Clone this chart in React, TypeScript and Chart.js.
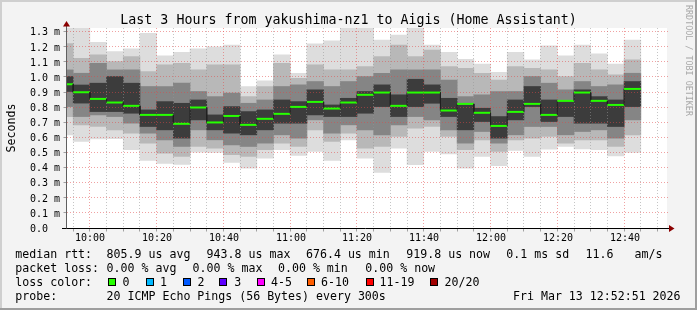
import React, { useEffect, useRef } from 'react';
import { Chart, registerables } from 'chart.js';

Chart.register(...registerables);

// ---- data ----
const intervalStarts = [
  '09:50', '09:55', '10:00', '10:05', '10:10', '10:15', '10:20', '10:25', '10:30', '10:35',
  '10:40', '10:45', '10:50', '10:55', '11:00', '11:05', '11:10', '11:15', '11:20', '11:25',
  '11:30', '11:35', '11:40', '11:45', '11:50', '11:55', '12:00', '12:05', '12:10', '12:15',
  '12:20', '12:25', '12:30', '12:35', '12:40',
];

// median rtt in ms
const medianRtt = [
  0.952, 0.899, 0.855, 0.831, 0.809, 0.749, 0.749, 0.690, 0.798, 0.699,
  0.742, 0.683, 0.723, 0.756, 0.802, 0.835, 0.791, 0.831, 0.882, 0.897,
  0.809, 0.897, 0.897, 0.778, 0.822, 0.763, 0.676, 0.769, 0.822, 0.749,
  0.842, 0.897, 0.842, 0.815, 0.921,
];

// smoke: outermost (min .. max of the pings)
const smokeMax = [
  1.36, 1.33, 1.230, 1.168, 1.186, 1.289, 1.140, 1.164, 1.186, 1.200,
  1.211, 0.937, 0.974, 1.146, 1.025, 1.219, 1.239, 1.36, 1.36, 1.245,
  1.278, 1.36, 1.212, 1.164, 1.117, 1.086, 1.031, 1.164, 1.113, 1.206,
  1.140, 1.212, 1.153, 1.086, 1.245,
];
const smokeMin = [
  0.617, 0.573, 0.590, 0.592, 0.518, 0.447, 0.428, 0.421, 0.502, 0.500,
  0.434, 0.397, 0.462, 0.518, 0.480, 0.507, 0.447, 0.584, 0.463, 0.368,
  0.529, 0.419, 0.507, 0.491, 0.397, 0.474, 0.412, 0.513, 0.474, 0.522,
  0.540, 0.524, 0.518, 0.478, 0.500,
];
// smoke: second band
const smokeOuterHigh = [
  1.222, 1.124, 1.146, 1.102, 1.135, 1.036, 1.080, 1.091, 1.047, 1.080,
  1.080, 0.870, 0.937, 1.091, 0.992, 1.080, 1.047, 1.047, 1.069, 1.135,
  1.212, 1.135, 1.179, 1.069, 1.058, 1.025, 0.980, 1.069, 1.058, 1.047,
  1.003, 1.091, 1.047, 1.014, 1.113,
];
const smokeOuterLow = [
  0.738, 0.683, 0.672, 0.650, 0.628, 0.562, 0.496, 0.474, 0.540, 0.529,
  0.485, 0.474, 0.518, 0.562, 0.540, 0.650, 0.573, 0.628, 0.529, 0.540,
  0.606, 0.661, 0.672, 0.606, 0.518, 0.584, 0.507, 0.584, 0.595, 0.606,
  0.562, 0.584, 0.584, 0.540, 0.617,
];
// smoke: third band
const smokeInnerHigh = [
  1.047, 1.025, 1.091, 1.047, 1.047, 0.937, 0.937, 0.959, 0.904, 0.870,
  0.893, 0.826, 0.848, 0.937, 0.948, 0.970, 0.937, 0.970, 1.003, 1.025,
  1.047, 1.047, 1.047, 0.980, 0.870, 0.882, 0.904, 0.904, 1.003, 0.959,
  0.915, 0.970, 0.937, 0.948, 1.025,
];
const smokeInnerLow = [
  0.804, 0.738, 0.749, 0.738, 0.694, 0.628, 0.584, 0.540, 0.650, 0.584,
  0.551, 0.540, 0.562, 0.617, 0.595, 0.716, 0.628, 0.683, 0.650, 0.617,
  0.683, 0.738, 0.716, 0.650, 0.562, 0.639, 0.562, 0.617, 0.672, 0.672,
  0.617, 0.639, 0.650, 0.595, 0.716,
];
// smoke: core band
const smokeCoreHigh = [
  1.003, 0.947, 0.959, 1.003, 0.959, 0.782, 0.837, 0.826, 0.848, 0.749,
  0.804, 0.771, 0.782, 0.848, 0.837, 0.915, 0.815, 0.859, 0.904, 0.948,
  0.882, 0.985, 0.948, 0.859, 0.815, 0.793, 0.738, 0.848, 0.937, 0.848,
  0.837, 0.915, 0.870, 0.848, 0.970,
];
const smokeCoreLow = [
  0.904, 0.827, 0.771, 0.771, 0.760, 0.672, 0.650, 0.595, 0.716, 0.650,
  0.628, 0.617, 0.650, 0.694, 0.694, 0.749, 0.738, 0.738, 0.760, 0.804,
  0.738, 0.804, 0.826, 0.738, 0.650, 0.705, 0.595, 0.716, 0.804, 0.705,
  0.738, 0.694, 0.694, 0.672, 0.804,
];

const timeTickLabels = ['10:00', '10:20', '10:40', '11:00', '11:20', '11:40', '12:00', '12:20', '12:40'];
const yTickValues = [0, 0.1, 0.2, 0.3, 0.4, 0.5, 0.6, 0.7, 0.8, 0.9, 1.0, 1.1, 1.2, 1.3];
const yTickLabels = ['0.0', '0.1 m', '0.2 m', '0.3 m', '0.4 m', '0.5 m', '0.6 m', '0.7 m', '0.8 m', '0.9 m', '1.0 m', '1.1 m', '1.2 m', '1.3 m'];

const titleText = 'Last 3 Hours from yakushima-nz1 to Aigis (Home Assistant)';
const rttStats = ['805.9 us avg', '943.8 us max', '676.4 us min', '919.8 us now', '0.1 ms sd', '11.6', 'am/s'];
const lossStats = ['0.00 % avg', '0.00 % max', '0.00 % min', '0.00 % now'];
const lossLabels = ['0', '1', '2', '3', '4-5', '6-10', '11-19', '20/20'];
const lossColors = ['#26ff00', '#00b8ff', '#0059ff', '#5e00ff', '#ff00ff', '#ff5e00', '#ff0000', '#a10000'];
const probeText = '20 ICMP Echo Pings (56 Bytes) every 300s';
const dateText = 'Fri Mar 13 12:52:51 2026';

// ---- helpers ----
const toMin = (s: string) => {
  const [h, m] = s.split(':').map(Number);
  return h * 60 + m - 600; // minutes after 10:00
};
const STEP = 5;
const MONO = '"DejaVu Sans Mono", "Liberation Mono", monospace';

const band = (lo: number[], hi: number[]) =>
  intervalStarts.map((s, i) => ({ x: toMin(s) + STEP / 2, y: [lo[i], hi[i]] }));

const medianPoints: { x: number; y: number }[] = [];
intervalStarts.forEach((s, i) => {
  const t = toMin(s);
  medianPoints.push({ x: t, y: medianRtt[i] }, { x: t + STEP, y: medianRtt[i] });
});

const chromePlugin = {
  id: 'smokepingChrome',
  beforeDraw(chart: any) {
    const { ctx, chartArea: a, width, height } = chart;
    ctx.save();
    ctx.fillStyle = '#f3f3f3';
    ctx.fillRect(0, 0, width, height);
    ctx.fillStyle = '#cfcfcf';
    ctx.fillRect(0, 0, width, 2);
    ctx.fillRect(0, 0, 2, height);
    ctx.fillStyle = '#9e9e9e';
    ctx.fillRect(0, height - 2, width, 2);
    ctx.fillRect(width - 2, 0, 2, height);
    ctx.fillStyle = '#ffffff';
    ctx.fillRect(a.left + 1, a.top, a.right - a.left - 1, a.bottom - a.top);
    ctx.restore();
  },
  beforeDatasetDraw(chart: any, args: any) {
    if (args.meta.type !== 'line') return;
    const { ctx, chartArea: a } = chart;
    const xs = chart.scales.x;
    const ys = chart.scales.y;
    const majors = timeTickLabels.map(toMin);
    ctx.save();
    ctx.lineWidth = 1;
    ctx.setLineDash([1, 2]);
    for (let t = Math.ceil(xs.min / STEP) * STEP; t <= xs.max; t += STEP) {
      if (majors.includes(t)) continue;
      const px = Math.floor(xs.getPixelForValue(t)) + 0.5;
      ctx.strokeStyle = 'rgba(150,150,150,0.55)';
      ctx.beginPath();
      ctx.moveTo(px, a.top);
      ctx.lineTo(px, a.bottom);
      ctx.stroke();
    }
    ctx.strokeStyle = 'rgba(225,70,70,0.5)';
    majors.forEach((t) => {
      const px = Math.floor(xs.getPixelForValue(t)) + 0.5;
      ctx.beginPath();
      ctx.moveTo(px, a.top);
      ctx.lineTo(px, a.bottom);
      ctx.stroke();
    });
    yTickValues.forEach((v) => {
      if (v === 0) return;
      const py = Math.floor(ys.getPixelForValue(v)) + 0.5;
      ctx.beginPath();
      ctx.moveTo(a.left + 1, py);
      ctx.lineTo(a.right + 1, py);
      ctx.stroke();
    });
    ctx.restore();
  },
  afterDraw(chart: any) {
    const { ctx, chartArea: a } = chart;
    const xs = chart.scales.x;
    const ys = chart.scales.y;
    const axisY = Math.floor(ys.getPixelForValue(0)) + 0.5;
    const axisX = a.left + 0.5;
    ctx.save();
    ctx.setLineDash([]);
    ctx.lineWidth = 1;

    // ticks
    ctx.strokeStyle = '#a0a0a0';
    for (let t = Math.ceil(xs.min / STEP) * STEP; t <= xs.max; t += STEP) {
      const px = Math.floor(xs.getPixelForValue(t)) + 0.5;
      ctx.beginPath();
      ctx.moveTo(px, axisY);
      ctx.lineTo(px, axisY + 3);
      ctx.stroke();
    }
    yTickValues.forEach((v) => {
      const py = Math.floor(ys.getPixelForValue(v)) + 0.5;
      ctx.beginPath();
      ctx.moveTo(axisX - 3, py);
      ctx.lineTo(axisX, py);
      ctx.stroke();
    });

    // axes
    ctx.strokeStyle = '#000000';
    ctx.beginPath();
    ctx.moveTo(a.left - 4, axisY);
    ctx.lineTo(a.right + 2, axisY);
    ctx.stroke();
    ctx.strokeStyle = '#606060';
    ctx.beginPath();
    ctx.moveTo(axisX, axisY);
    ctx.lineTo(axisX, a.top - 2);
    ctx.stroke();

    // arrows
    ctx.fillStyle = '#8b0000';
    ctx.beginPath();
    ctx.moveTo(axisX, a.top - 7);
    ctx.lineTo(axisX - 3.5, a.top - 1.5);
    ctx.lineTo(axisX + 3.5, a.top - 1.5);
    ctx.closePath();
    ctx.fill();
    ctx.beginPath();
    ctx.moveTo(a.right + 7.5, axisY);
    ctx.lineTo(a.right + 2, axisY - 3.5);
    ctx.lineTo(a.right + 2, axisY + 3.5);
    ctx.closePath();
    ctx.fill();

    // tick labels
    ctx.fillStyle = '#000000';
    ctx.font = `10px ${MONO}`;
    ctx.textBaseline = 'alphabetic';
    ctx.textAlign = 'center';
    timeTickLabels.forEach((lbl) => {
      const px = Math.floor(xs.getPixelForValue(toMin(lbl))) + 1;
      ctx.fillText(lbl, px, axisY + 12.7);
    });
    ctx.textAlign = 'left';
    yTickValues.forEach((v, i) => {
      const py = ys.getPixelForValue(v);
      ctx.fillText(yTickLabels[i], 30, py + 3.8);
    });

    // title
    ctx.font = `13.3px ${MONO}`;
    ctx.textAlign = 'center';
    ctx.fillText(titleText, 348.5, 24);

    // vertical axis title
    ctx.save();
    ctx.font = `11.6px ${MONO}`;
    ctx.translate(15, a.top + (a.bottom - a.top) / 2);
    ctx.rotate(-Math.PI / 2);
    ctx.textAlign = 'center';
    ctx.fillText('Seconds', 0, 0);
    ctx.restore();

    // watermark
    ctx.save();
    ctx.font = `8.4px ${MONO}`;
    ctx.fillStyle = '#a8a8a8';
    ctx.translate(686, 5);
    ctx.rotate(Math.PI / 2);
    ctx.textAlign = 'left';
    ctx.fillText('RRDTOOL / TOBI OETIKER', 0, 0);
    ctx.restore();

    // legend
    ctx.font = `11.6px ${MONO}`;
    ctx.textAlign = 'left';
    ctx.fillStyle = '#000000';
    const r1 = 258, r2 = 272, r3 = 286, r4 = 300;
    ctx.fillText('median rtt:', 15.3, r1);
    const rttX = [106.6, 206.6, 306, 406.3, 506.3, 585.6, 634.6];
    rttStats.forEach((s, i) => ctx.fillText(s, rttX[i], r1));
    ctx.fillText('packet loss:', 15.3, r2);
    const lossX = [106.6, 192.6, 278, 365.3];
    lossStats.forEach((s, i) => ctx.fillText(s, lossX[i], r2));
    ctx.fillText('loss color:', 15.3, r3);
    const sqX = [108, 146, 183, 219, 257, 307, 366, 430];
    const lblX = [122.6, 160, 197.6, 234.3, 271, 321, 379.6, 444.6];
    lossLabels.forEach((s, i) => {
      ctx.fillStyle = lossColors[i];
      ctx.fillRect(sqX[i], r3 - 8, 8, 8);
      ctx.strokeStyle = '#000000';
      ctx.strokeRect(sqX[i] + 0.5, r3 - 7.5, 7, 7);
      ctx.fillStyle = '#000000';
      ctx.fillText(s, lblX[i], r3);
    });
    ctx.fillText('probe:', 15.3, r4);
    ctx.fillText(probeText, 106.6, r4);
    ctx.fillText(dateText, 513, r4);
    ctx.restore();
  },
};

export default function App() {
  const canvasRef = useRef<HTMLCanvasElement | null>(null);

  useEffect(() => {
    document.body.style.margin = '0';
    const canvas = canvasRef.current;
    if (!canvas) return;
    const barCommon = {
      type: 'bar' as const,
      borderWidth: 0,
      barPercentage: 1,
      categoryPercentage: 1,
      grouped: false,
    };
    const vertical = (c: any) => c.p0.parsed.x === c.p1.parsed.x;
    const chart = new Chart(canvas, {
      type: 'bar',
      data: {
        datasets: [
          {
            type: 'line',
            label: 'median',
            data: medianPoints,
            order: 0,
            pointRadius: 0,
            borderWidth: 2,
            borderColor: '#26ff00',
            borderCapStyle: 'butt',
            tension: 0,
            segment: {
              borderColor: (c: any) => (vertical(c) ? '#202020' : '#26ff00'),
              borderWidth: (c: any) => (vertical(c) ? 1 : 2),
            },
          } as any,
          { ...barCommon, label: 'core', data: band(smokeCoreLow, smokeCoreHigh), backgroundColor: '#3c3c3c', order: 1 },
          { ...barCommon, label: 'inner', data: band(smokeInnerLow, smokeInnerHigh), backgroundColor: '#858585', order: 2 },
          { ...barCommon, label: 'outer', data: band(smokeOuterLow, smokeOuterHigh), backgroundColor: '#b8b8b8', order: 3 },
          { ...barCommon, label: 'range', data: band(smokeMin, smokeMax), backgroundColor: '#dddddd', order: 4 },
        ] as any,
      },
      options: {
        animation: false,
        responsive: false,
        events: [],
        layout: { padding: { left: 66, right: 30, top: 28, bottom: 82 } },
        plugins: {
          legend: { display: false },
          tooltip: { enabled: false },
        },
        scales: {
          x: { type: 'linear', min: -7.15, max: 172.85, display: false, offset: false, ticks: { stepSize: 20 } },
          y: { type: 'linear', min: 0, max: 1.3245, display: false },
        },
      } as any,
      plugins: [chromePlugin],
    });
    return () => chart.destroy();
  }, []);

  return <canvas ref={canvasRef} width={697} height={310} style={{ display: 'block' }} />;
}
